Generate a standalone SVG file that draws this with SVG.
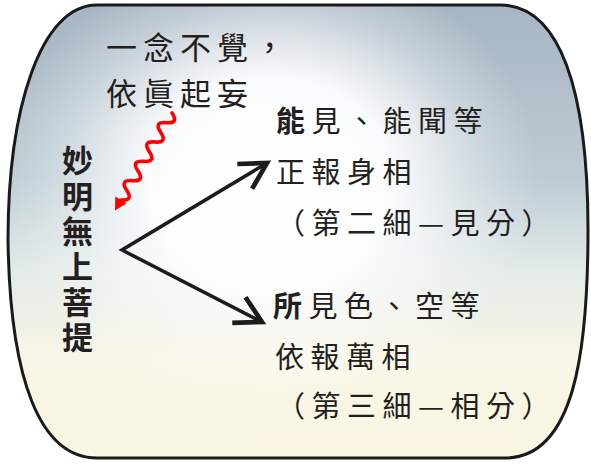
<svg xmlns="http://www.w3.org/2000/svg" width="591" height="464" viewBox="0 0 591 464">
<style>
text{font-family:"Noto Sans CJK TC","Noto Sans CJK SC",sans-serif;fill:#231f20}
.t1{font-size:31px;letter-spacing:6px}
.t2{font-size:29px;letter-spacing:6.5px}
.vt{font-size:31px;font-weight:700;writing-mode:vertical-rl;letter-spacing:4.4px}
.b{font-weight:700}
.arrow{fill:none;stroke:#1c1c1c;stroke-width:3.5;stroke-linejoin:miter}
.wave{fill:none;stroke:#ff0000;stroke-width:3.6;stroke-linejoin:round;stroke-linecap:round}
</style>
<defs>
<path id="frame" d="M97,5 L500,5 C560,5 588,90 588,230 C588,350 575,458 505,458 L97,458 C40,458 10,380 8,240 C8,110 40,5 97,5 Z"/>
<linearGradient id="sky" x1="0" y1="0" x2="0" y2="1">
<stop offset="0" stop-color="#a6b5c3"/>
<stop offset="0.38" stop-color="#bccbd4"/>
<stop offset="0.58" stop-color="#e2eae8"/>
<stop offset="0.78" stop-color="#f8f6e6"/>
<stop offset="1" stop-color="#faf6e2"/>
</linearGradient>
<radialGradient id="glow" gradientUnits="userSpaceOnUse" cx="270" cy="180" r="270" gradientTransform="translate(270 180) scale(1 0.85) translate(-270 -180)">
<stop offset="0" stop-color="#ffffff" stop-opacity="1"/>
<stop offset="0.45" stop-color="#ffffff" stop-opacity="0.93"/>
<stop offset="0.78" stop-color="#ffffff" stop-opacity="0.3"/>
<stop offset="1" stop-color="#ffffff" stop-opacity="0"/>
</radialGradient>
<marker id="chev" markerUnits="userSpaceOnUse" markerWidth="40" markerHeight="40" refX="0" refY="0" viewBox="-25 -15 30 30" orient="auto-start-reverse" overflow="visible">
<path d="M-19.5,-10.8 L0,0 L-19.5,10.8" fill="none" stroke="#1c1c1c" stroke-width="3.5" stroke-linejoin="miter" stroke-linecap="butt"/>
</marker>
</defs>
<rect width="591" height="464" fill="#ffffff"/>
<g id="frame-shape">
<use href="#frame" fill="url(#sky)"/>
<use href="#frame" fill="url(#glow)"/>
<use href="#frame" fill="none" stroke="#1a1a1a" stroke-width="3"/>
</g>
<g id="connectors">
<path class="arrow" d="M267,163 L122,250 L262,322" marker-start="url(#chev)" marker-end="url(#chev)"/>
<path class="wave" d="M172,113 Q179.2,123.7 166.33,122.67 T160.66,132.33 T155,142 T149.33,151.67 T143.67,161.33 T138,171 T132.33,180.67 T126.67,190.33 T121,200"/>
<polygon points="115.3,196.5 126.7,203.2 115,210.5" fill="#ff0000"/>
</g>
<g id="note">
<text class="t1" x="106" y="59">一念不覺，</text>
<text class="t1" x="106" y="105">依眞起妄</text>
</g>
<g id="source">
<text class="vt" x="77.5" y="145">妙明無上菩提</text>
</g>
<g id="upper-target">
<text class="t2" x="276" y="132"><tspan class="b">能</tspan>見、能聞等</text>
<text class="t2" x="276" y="183">正報身相</text>
<text class="t2" x="276" y="234">（第二細—見分）</text>
</g>
<g id="lower-target">
<text class="t2" x="273" y="317"><tspan class="b">所</tspan>見色、空等</text>
<text class="t2" x="275" y="368">依報萬相</text>
<text class="t2" x="276" y="417">（第三細—相分）</text>
</g>
</svg>
